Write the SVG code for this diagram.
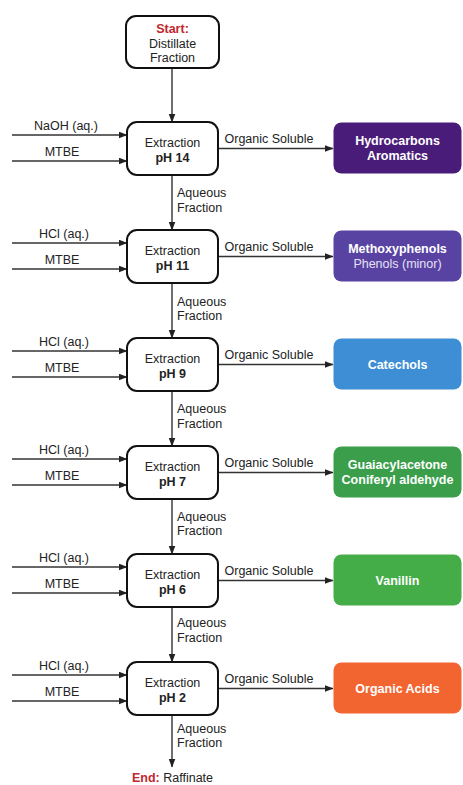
<svg xmlns="http://www.w3.org/2000/svg" width="463" height="785" viewBox="0 0 463 785">
<defs>
<marker id="ah" markerWidth="9" markerHeight="7" refX="8.5" refY="3.5" orient="auto" markerUnits="userSpaceOnUse">
<path d="M0,0 L9,3.5 L0,7 Z" fill="#222"/>
</marker>
<style>
text{font-family:"Liberation Sans",Arial,sans-serif;font-size:12.5px;fill:#222}
.c{text-anchor:middle}
.b{font-weight:bold}
.w{fill:#fff}
.w2{fill:#e6e0f5}
.red{fill:#c1272d;font-weight:bold}
.box{fill:#fff;stroke:#111;stroke-width:2}
.ln{stroke:#333;stroke-width:1.4;fill:none;marker-end:url(#ah)}
</style>
</defs>
<rect width="463" height="785" fill="#fff"/>

<g id="start">
<rect class="box" x="126" y="16" width="93" height="52" rx="10"/>
<text class="c" x="172.5" y="33"><tspan class="red">Start:</tspan></text>
<text class="c" x="172.5" y="47.5">Distillate</text>
<text class="c" x="172.5" y="61.5">Fraction</text>
</g>

<g id="connectors">
<line class="ln" x1="172" y1="69" x2="172" y2="122"/>
<line class="ln" x1="172" y1="176" x2="172" y2="230"/>
<line class="ln" x1="172" y1="284" x2="172" y2="338"/>
<line class="ln" x1="172" y1="392" x2="172" y2="446"/>
<line class="ln" x1="172" y1="500" x2="172" y2="554"/>
<line class="ln" x1="172" y1="608" x2="172" y2="662"/>
<line class="ln" x1="172" y1="716" x2="172" y2="767"/>

<line class="ln" x1="12" y1="135" x2="127" y2="135"/>
<line class="ln" x1="12" y1="161" x2="127" y2="161"/>
<line class="ln" x1="12" y1="243" x2="127" y2="243"/>
<line class="ln" x1="12" y1="269" x2="127" y2="269"/>
<line class="ln" x1="12" y1="351" x2="127" y2="351"/>
<line class="ln" x1="12" y1="377" x2="127" y2="377"/>
<line class="ln" x1="12" y1="459" x2="127" y2="459"/>
<line class="ln" x1="12" y1="485" x2="127" y2="485"/>
<line class="ln" x1="12" y1="567" x2="127" y2="567"/>
<line class="ln" x1="12" y1="593" x2="127" y2="593"/>
<line class="ln" x1="12" y1="675" x2="127" y2="675"/>
<line class="ln" x1="12" y1="701" x2="127" y2="701"/>

<line class="ln" x1="219" y1="148.5" x2="333" y2="148.5"/>
<line class="ln" x1="219" y1="256.5" x2="333" y2="256.5"/>
<line class="ln" x1="219" y1="364.5" x2="333" y2="364.5"/>
<line class="ln" x1="219" y1="472.5" x2="333" y2="472.5"/>
<line class="ln" x1="219" y1="580.5" x2="333" y2="580.5"/>
<line class="ln" x1="219" y1="688.5" x2="333" y2="688.5"/>

<text class="c" x="66" y="130">NaOH (aq.)</text>
<text class="c" x="62" y="156">MTBE</text>
<text class="c" x="64" y="238">HCl (aq.)</text>
<text class="c" x="62" y="264">MTBE</text>
<text class="c" x="64" y="346">HCl (aq.)</text>
<text class="c" x="62" y="372">MTBE</text>
<text class="c" x="64" y="454">HCl (aq.)</text>
<text class="c" x="62" y="480">MTBE</text>
<text class="c" x="64" y="562">HCl (aq.)</text>
<text class="c" x="62" y="588">MTBE</text>
<text class="c" x="64" y="670">HCl (aq.)</text>
<text class="c" x="62" y="696">MTBE</text>

<text class="c" x="269" y="143">Organic Soluble</text>
<text class="c" x="269" y="251">Organic Soluble</text>
<text class="c" x="269" y="359">Organic Soluble</text>
<text class="c" x="269" y="467">Organic Soluble</text>
<text class="c" x="269" y="575">Organic Soluble</text>
<text class="c" x="269" y="683">Organic Soluble</text>

<text x="177" y="197">Aqueous</text><text x="177" y="211.5">Fraction</text>
<text x="177" y="305.5">Aqueous</text><text x="177" y="320">Fraction</text>
<text x="177" y="413">Aqueous</text><text x="177" y="427.5">Fraction</text>
<text x="177" y="520.5">Aqueous</text><text x="177" y="535">Fraction</text>
<text x="177" y="627">Aqueous</text><text x="177" y="641.5">Fraction</text>
<text x="177" y="732.5">Aqueous</text><text x="177" y="747">Fraction</text>
</g>

<g id="ext14"><rect class="box" x="127" y="122" width="91" height="53" rx="10"/>
<text class="c" x="172.5" y="147">Extraction</text><text class="c b" x="172.5" y="161.5">pH 14</text></g>
<g id="ext11"><rect class="box" x="127" y="230" width="91" height="53" rx="10"/>
<text class="c" x="172.5" y="255">Extraction</text><text class="c b" x="172.5" y="269.5">pH 11</text></g>
<g id="ext9"><rect class="box" x="127" y="338" width="91" height="53" rx="10"/>
<text class="c" x="172.5" y="363">Extraction</text><text class="c b" x="172.5" y="377.5">pH 9</text></g>
<g id="ext7"><rect class="box" x="127" y="446" width="91" height="53" rx="10"/>
<text class="c" x="172.5" y="471">Extraction</text><text class="c b" x="172.5" y="485.5">pH 7</text></g>
<g id="ext6"><rect class="box" x="127" y="554" width="91" height="53" rx="10"/>
<text class="c" x="172.5" y="579">Extraction</text><text class="c b" x="172.5" y="593.5">pH 6</text></g>
<g id="ext2"><rect class="box" x="127" y="662" width="91" height="53" rx="10"/>
<text class="c" x="172.5" y="687">Extraction</text><text class="c b" x="172.5" y="701.5">pH 2</text></g>

<g id="hydrocarbons"><rect x="333.5" y="122.5" width="128" height="51" rx="8" fill="#4a1c7a"/>
<text class="c b w" x="397.5" y="145">Hydrocarbons</text><text class="c b w" x="397.5" y="160">Aromatics</text></g>
<g id="methoxyphenols"><rect x="333.5" y="230.5" width="128" height="51" rx="8" fill="#5843a3"/>
<text class="c b w" x="397.5" y="253">Methoxyphenols</text><text class="c w2" x="397.5" y="268">Phenols (minor)</text></g>
<g id="catechols"><rect x="333.5" y="338.5" width="128" height="51" rx="8" fill="#3d8ed4"/>
<text class="c b w" x="397.5" y="368.5">Catechols</text></g>
<g id="guaiacyl"><rect x="333.5" y="446.5" width="128" height="51" rx="8" fill="#3a9e4a"/>
<text class="c b w" x="397.5" y="469">Guaiacylacetone</text><text class="c b w" x="397.5" y="484">Coniferyl aldehyde</text></g>
<g id="vanillin"><rect x="333.5" y="554.5" width="128" height="51" rx="8" fill="#45ad47"/>
<text class="c b w" x="397.5" y="584.5">Vanillin</text></g>
<g id="acids"><rect x="333.5" y="662.5" width="128" height="51" rx="8" fill="#f26430"/>
<text class="c b w" x="397.5" y="692.5">Organic Acids</text></g>

<g id="end">
<text class="c" x="172.5" y="782"><tspan class="red">End:</tspan> Raffinate</text>
</g>
</svg>
